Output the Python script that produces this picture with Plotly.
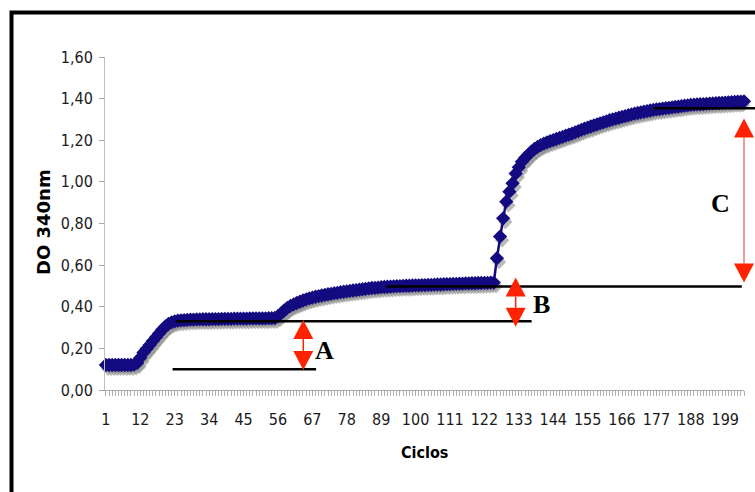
import plotly.graph_objects as go

# ---- data ----
cycles = list(range(1, 206))
do340 = [
    0.12, 0.12, 0.12, 0.12, 0.12, 0.12, 0.12, 0.12, 0.12, 0.122,
    0.13, 0.155, 0.18, 0.198, 0.216, 0.235, 0.254, 0.272, 0.29, 0.305,
    0.317, 0.325, 0.33, 0.333, 0.335, 0.336, 0.337, 0.338, 0.338, 0.339,
    0.339, 0.34, 0.34, 0.34, 0.341, 0.341, 0.341, 0.342, 0.342, 0.342,
    0.342, 0.343, 0.343, 0.343, 0.343, 0.343, 0.344, 0.344, 0.344, 0.344,
    0.344, 0.344, 0.345, 0.345, 0.346, 0.355, 0.368, 0.382, 0.395, 0.404,
    0.411, 0.418, 0.424, 0.43, 0.435, 0.44, 0.444, 0.448, 0.451, 0.454,
    0.457, 0.46, 0.462, 0.465, 0.467, 0.47, 0.472, 0.474, 0.476, 0.478,
    0.48, 0.482, 0.484, 0.486, 0.488, 0.49, 0.491, 0.492, 0.494, 0.495,
    0.496, 0.497, 0.498, 0.499, 0.499, 0.5, 0.501, 0.501, 0.502, 0.503,
    0.503, 0.504, 0.504, 0.505, 0.505, 0.506, 0.507, 0.507, 0.508, 0.509,
    0.509, 0.51, 0.51, 0.511, 0.511, 0.512, 0.512, 0.513, 0.513, 0.514,
    0.514, 0.515, 0.515, 0.516, 0.516, 0.633, 0.737, 0.825, 0.905, 0.953,
    0.993, 1.04, 1.07, 1.097, 1.115, 1.13, 1.145, 1.158, 1.168, 1.177,
    1.184, 1.19, 1.196, 1.201, 1.206, 1.211, 1.216, 1.222, 1.227, 1.232,
    1.238, 1.244, 1.25, 1.256, 1.261, 1.266, 1.271, 1.276, 1.281, 1.286,
    1.291, 1.296, 1.30, 1.304, 1.308, 1.312, 1.316, 1.32, 1.324, 1.328,
    1.331, 1.334, 1.337, 1.34, 1.343, 1.346, 1.348, 1.35, 1.352, 1.354,
    1.356, 1.358, 1.36, 1.362, 1.364, 1.366, 1.368, 1.37, 1.371, 1.372,
    1.373, 1.374, 1.375, 1.376, 1.377, 1.378, 1.379, 1.38, 1.381, 1.382,
    1.383, 1.384, 1.385, 1.386, 1.387,
]
x_tick_vals = [1, 12, 23, 34, 45, 56, 67, 78, 89, 100, 111, 122, 133, 144, 155, 166, 177, 188, 199]
y_tick_vals = [0.0, 0.2, 0.4, 0.6, 0.8, 1.0, 1.2, 1.4, 1.6]

# reference levels drawn on the chart: level, first cycle, last cycle
ref_levels = [0.10, 0.33, 0.497, 1.354]
ref_start = [22.3, 23.3, 90.7, 176.0]
ref_end = [68.2, 137.1, 204.3, 209.0]

# double arrows
arrow_labels = ["A", "B", "C"]
arrow_cycle = [64.1, 132.0, 205.0]
arrow_top = [0.336, 0.54, 1.305]
arrow_bottom = [0.096, 0.304, 0.516]
label_cycle = [71.0, 140.3, 197.5]
label_level = [0.192, 0.41, 0.898]

# ---- layout geometry ----
W, H = 755, 492
ML, MR, MT, MB = 105, 11, 57, 102
PW, PH = W - ML - MR, H - MT - MB
XR = [0.7, 205.0]
YR = [0.0, 1.6]


def px(n):
    return (n - XR[0]) / (XR[1] - XR[0])


def py(v):
    return (v - YR[0]) / (YR[1] - YR[0])


def ppx(p):  # pixel -> paper x
    return (p - ML) / PW


def ppy(p):  # pixel -> paper y
    return (H - MB - p) / PH


NAVY = "#140A80"
RED = "#FF2200"

fig = go.Figure()
# soft grey shadow under the series
fig.add_trace(go.Scatter(
    x=[c + 0.7 for c in cycles], y=[v - 0.018 for v in do340],
    mode="markers", cliponaxis=False, hoverinfo="skip",
    marker=dict(symbol="diamond", size=11, color="rgba(140,140,140,0.6)", line=dict(width=0)),
))
fig.add_trace(go.Scatter(
    x=cycles, y=do340, mode="lines+markers", cliponaxis=False,
    line=dict(color=NAVY, width=2.5),
    marker=dict(symbol="diamond", size=11, color=NAVY, line=dict(width=0)),
))

shapes = []
# outer frame (left + top edges, running off the page on the right / bottom)
fl, ft = ppx(11.5), ppy(12.5)
shapes.append(dict(type="path", xref="paper", yref="paper",
                   path=f"M {fl},{ppy(505)} L {fl},{ft} L {ppx(770)},{ft}",
                   line=dict(color="black", width=4)))
# reference lines
for lv, a, b in zip(ref_levels, ref_start, ref_end):
    shapes.append(dict(type="line", xref="paper", yref="paper",
                       x0=px(a), x1=px(b), y0=py(lv), y1=py(lv),
                       line=dict(color="black", width=2.5)))
# arrows
hw = 10 / PW
hh = 19 / PH
for i, (n, t, b) in enumerate(zip(arrow_cycle, arrow_top, arrow_bottom)):
    xc, yt, yb = px(n), py(t), py(b)
    shaft_col = "#F47A6A" if i == 2 else RED
    shapes.append(dict(type="line", xref="paper", yref="paper",
                       x0=xc, x1=xc, y0=yt - hh, y1=yb + hh,
                       line=dict(color=shaft_col, width=1.5)))
    shapes.append(dict(type="path", xref="paper", yref="paper",
                       path=f"M {xc},{yt} L {xc-hw},{yt-hh} L {xc+hw},{yt-hh} Z",
                       fillcolor=RED, line=dict(width=0)))
    shapes.append(dict(type="path", xref="paper", yref="paper",
                       path=f"M {xc},{yb} L {xc-hw},{yb+hh} L {xc+hw},{yb+hh} Z",
                       fillcolor=RED, line=dict(width=0)))

annotations = []
for lab, n, v in zip(arrow_labels, label_cycle, label_level):
    annotations.append(dict(xref="paper", yref="paper", x=px(n), y=py(v), text=lab,
                            showarrow=False, xanchor="center", yanchor="middle",
                            font=dict(family="Liberation Serif", size=26, color="black", weight="bold")))
annotations.append(dict(xref="paper", yref="paper", x=0.5, y=ppy(452), text="Ciclos",
                        showarrow=False, xanchor="center", yanchor="middle",
                        font=dict(family="DejaVu Sans Condensed, DejaVu Sans", size=16, color="black", weight="bold")))
annotations.append(dict(xref="paper", yref="paper", x=ppx(43), y=ppy(222), text="DO 340nm",
                        showarrow=False, xanchor="center", yanchor="middle", textangle=-90,
                        font=dict(family="DejaVu Sans", size=18, color="black", weight="bold")))

tick_font = dict(family="DejaVu Sans Condensed, DejaVu Sans", size=16, color="#1a1a1a")
fig.update_layout(
    width=W, height=H, margin=dict(l=ML, r=MR, t=MT, b=MB),
    paper_bgcolor="white", plot_bgcolor="white", showlegend=False,
    separators=",.",
    shapes=shapes, annotations=annotations,
    xaxis=dict(range=XR, tickmode="array", tickvals=x_tick_vals, ticktext=[str(v) for v in x_tick_vals],
               showgrid=False, zeroline=False, showline=True, linecolor="#A8A8A8", linewidth=1,
               ticks="outside", ticklen=5, tickcolor="#A8A8A8", tickfont=tick_font,
               ticklabelstandoff=10,
               minor=dict(dtick=1, tick0=1, ticks="outside", ticklen=5, tickcolor="#B0B0B0", tickwidth=1,
                          showgrid=False)),
    yaxis=dict(range=YR, tickmode="array", tickvals=y_tick_vals, tickformat=".2f",
               showgrid=False, zeroline=False, showline=True, linecolor="#C0C0C0", linewidth=1,
               ticks="outside", ticklen=5, tickcolor="#A8A8A8", tickfont=tick_font,
               ticklabelstandoff=3),
)

fig.write_html("out.html", config={"displayModeBar": False},
               post_script="document.body.style.margin='0';")
